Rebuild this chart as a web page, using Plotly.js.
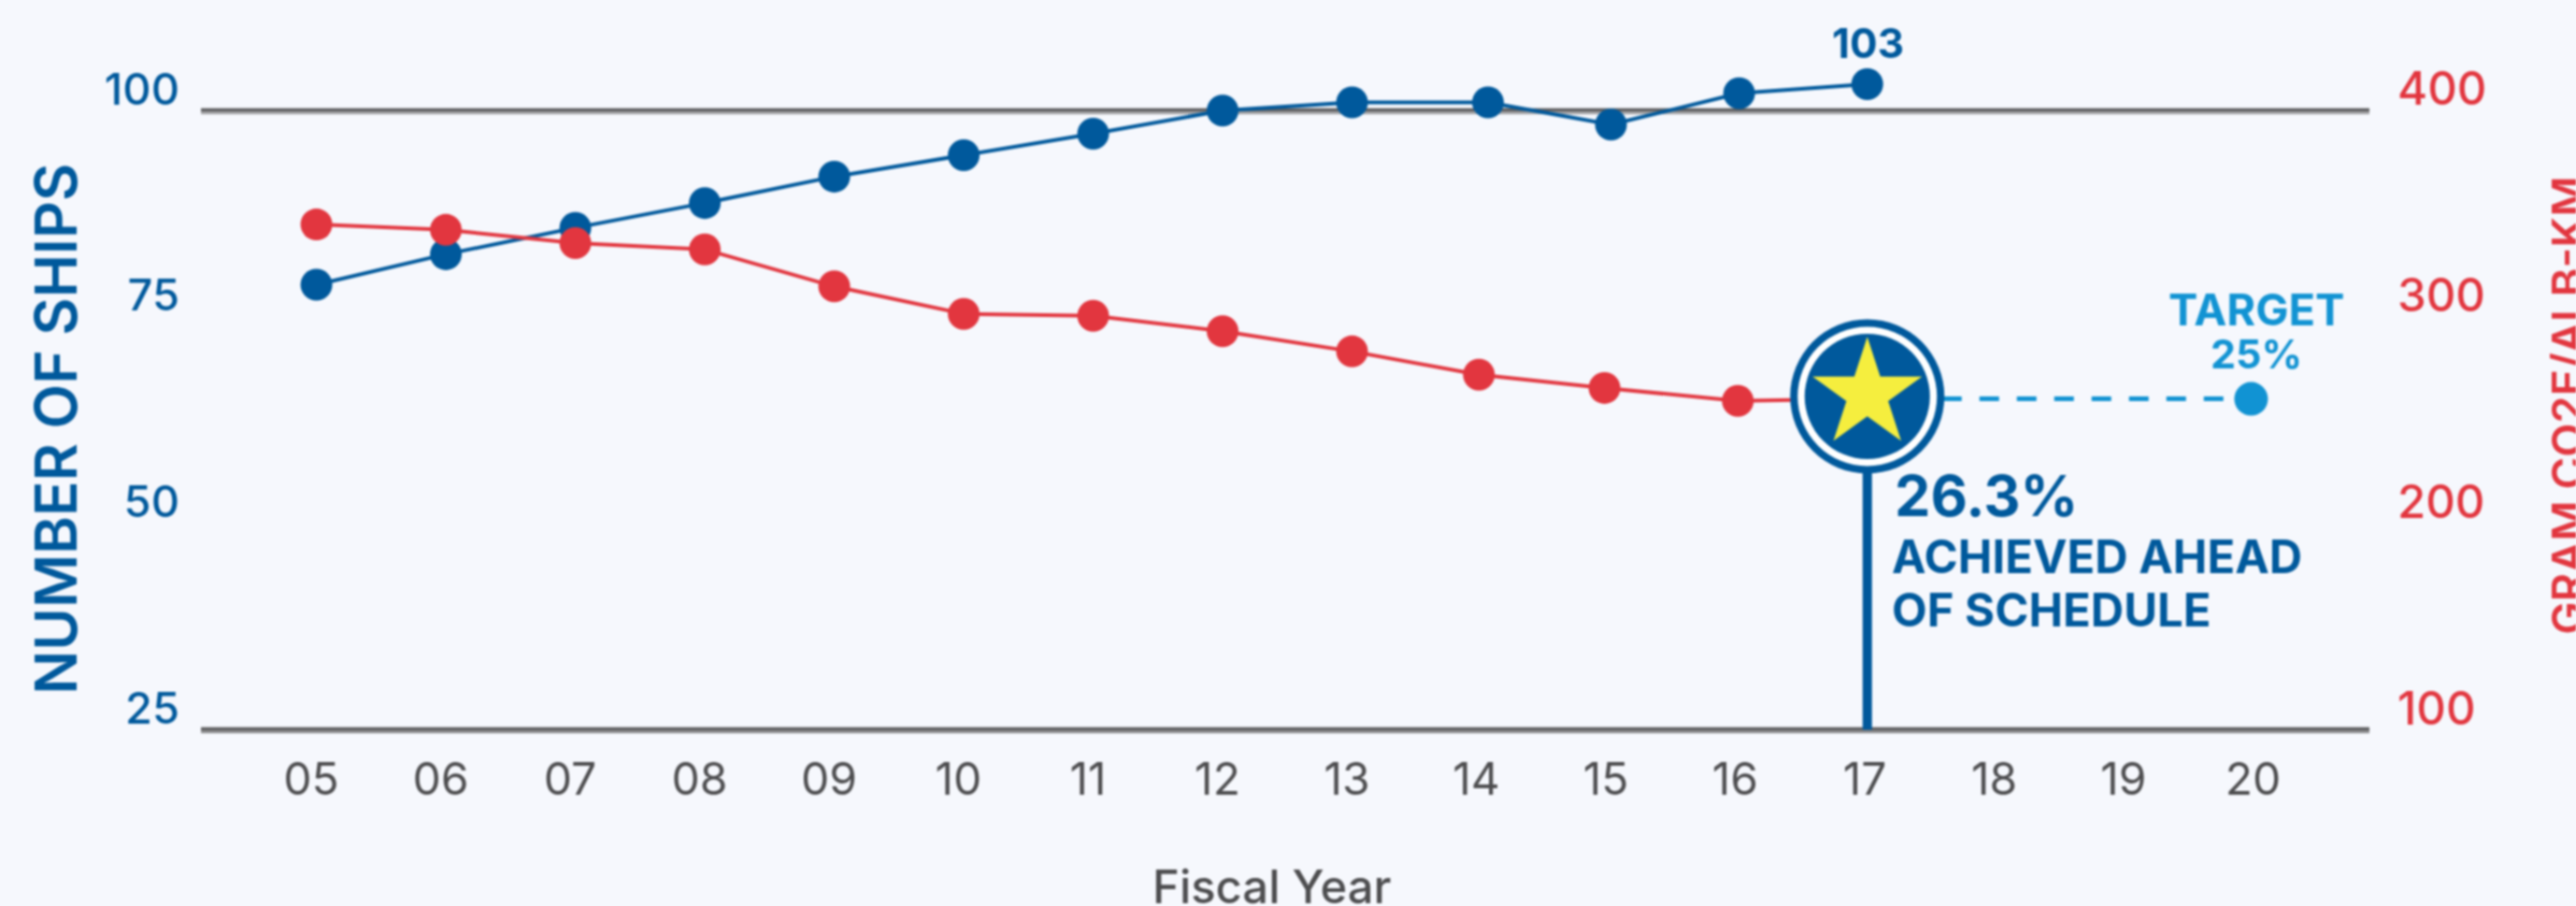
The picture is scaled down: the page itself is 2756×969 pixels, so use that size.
<!DOCTYPE html>
<html>
<head>
<meta charset="utf-8">
<script src="https://cdn.plot.ly/plotly-3.0.1.min.js"></script>
<style>html,body{margin:0;padding:0;background:#f6f8fd;overflow:hidden}#c{width:2756px;height:969px;filter:blur(0.8px)}</style>
</head>
<body>
<div id="c"></div>
<script>
var yearTicks = [5,6,7,8,9,10,11,12,13,14,15,16,17,18,19,20];
var yearLabels = ['05','06','07','08','09','10','11','12','13','14','15','16','17','18','19','20'];
var shipX = [5.04,6.04,7.04,8.04,9.04,10.04,11.04,12.04,13.04,14.09,15.04,16.03,17.02];
var ships = [78.9,82.6,85.8,88.8,92.0,94.6,97.2,100,101,101,98.3,102.1,103.2];
var gramX = [5.04,6.04,7.04,8.04,9.04,10.04,11.04,12.04,13.04,14.02,14.99,16.02,17.02];
var gram = [344.8,342.2,335.8,332.7,314.8,301.5,300.6,293.1,283.3,272,265.6,259.3,260.3];
var targetX = [17.02,19.985];
var targetY = [260.3,260.3];
var goalX = [17.02,17.02,17.02,17.02];
var goalY = [261.5,261.5,261.5,262.5];
var stemX = [17.02,17.02];
var stemY = [100,261.5];
var shipTicks = [25,50,75,100];
var gramTicks = [100,200,300,400];

var BLUE='#00599c', RED='#e2363f', SKY='#1193d3', GREY='#4d4d4f', BG='#f6f8fd', FONT='Inter, "DejaVu Sans", sans-serif';
var W=2756,H=969,L=215,R=2535,T=30.3,B=791.2;
function px(x){return (x-L)/(R-L);}
function py(y){return (B-y)/(B-T);}

var traces=[
 {x:stemX,y:stemY,yaxis:'y2',mode:'lines',line:{color:BLUE,width:10},hoverinfo:'skip',name:'Stem'},
 {x:targetX,y:targetY,yaxis:'y2',mode:'lines',line:{color:SKY,width:5,dash:'21px 19px'},name:'Target line'},
 {x:[targetX[1]],y:[targetY[1]],yaxis:'y2',mode:'markers',marker:{color:SKY,size:36},name:'Target'},
 {x:shipX,y:ships,mode:'lines+markers',line:{color:BLUE,width:4},marker:{color:BLUE,size:34},cliponaxis:false,name:'Number of ships'},
 {x:gramX,y:gram,yaxis:'y2',mode:'lines+markers',line:{color:RED,width:4},marker:{color:RED,size:34},cliponaxis:false,name:'Gram CO2e/ALB-km'},
 {x:goalX,y:goalY,yaxis:'y2',mode:'markers',cliponaxis:false,name:'Achieved',
  marker:{opacity:1,size:[165,149,134,88],symbol:['circle','circle','circle','star'],color:[BLUE,'#ffffff',BLUE,'#f5ee3e'],line:{width:0}}}
];

function note(text,x,y,size,color,anchor,weight,extra){
 return Object.assign({text:text,xref:'paper',yref:'paper',x:px(x),y:py(y),showarrow:false,xanchor:anchor||'center',yanchor:'middle',
  font:{family:FONT,size:size,color:color,weight:weight||600}},extra||{});
}
function rule(y,color){
 return {type:'line',xref:'paper',yref:'y',x0:0,x1:1,y0:y,y1:y,layer:'below',line:{color:color,width:3.5}};
}

var layout={
 width:W,height:H,paper_bgcolor:BG,plot_bgcolor:BG,showlegend:false,
 margin:{l:L,r:W-R,t:T,b:H-B,pad:0},
 font:{family:FONT},
 xaxis:{range:[4.148,20.899],tickmode:'array',tickvals:yearTicks,ticktext:yearLabels,showgrid:false,zeroline:false,showline:false,ticks:'',
  tickfont:{size:48,color:GREY,family:FONT},ticklabelstandoff:10},
 yaxis:{range:[23.8,110],tickmode:'array',tickvals:shipTicks,ticktext:shipTicks.map(String),showgrid:false,zeroline:false,showline:false,ticks:'',
  tickfont:{size:47,color:BLUE,family:FONT,weight:500},ticklabelstandoff:22,ticklabelshift:-23},
 yaxis2:{range:[95.2,440],overlaying:'y',side:'right',tickmode:'array',tickvals:gramTicks,ticktext:gramTicks.map(String),showgrid:false,zeroline:false,showline:false,ticks:'',
  tickfont:{size:49,color:RED,family:FONT,weight:500},ticklabelstandoff:29,ticklabelshift:-23},
 shapes:[
  rule(99.75,'#a5a5a7'),rule(100.1,'#5f5f61'),
  rule(24.75,'#909092'),rule(25.1,'#5f5f61')
 ],
 annotations:[
  note('Fiscal Year',1360,949,49,GREY,'center',500),
  note('NUMBER OF SHIPS',60,459,62,BLUE,'center',600,{textangle:-90}),
  note('GRAM CO2E/ALB-KM',2747,434,47,RED,'center',600,{textangle:-90}),
  note('103',1998,46,44,BLUE,'center',700),
  note('TARGET',2414,331,47,SKY,'center',700),
  note('25%',2414,378,43,SKY,'center',700),
  note('26.3%',2025,530,61,BLUE,'left',700),
  note('ACHIEVED AHEAD',2022,596,49,BLUE,'left',700),
  note('OF SCHEDULE',2022,653,49,BLUE,'left',700)
 ]
};
Plotly.newPlot('c',traces,layout,{displayModeBar:false,responsive:false,staticPlot:true});
</script>
</body>
</html>
